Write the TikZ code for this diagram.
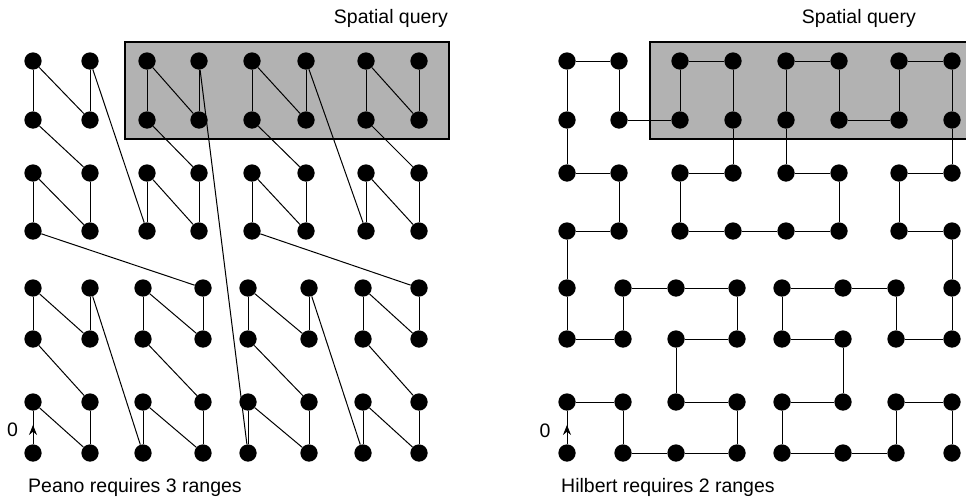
\documentclass[tikz,border=0pt]{standalone}
\usepackage{fontspec}
\setmainfont{Liberation Sans}
\usetikzlibrary{arrows.meta,calc}
\begin{document}
\begin{tikzpicture}[x=1pt,y=-1pt,
  dot/.style={circle,fill=black,inner sep=0pt,minimum size=17.3pt},
  conn/.style={line width=1pt,black},
  query/.style={fill=black!30,draw=black,line width=2.5pt},
  lbl/.style={inner sep=0pt,font=\fontsize{19.5}{22}\selectfont},
  uptip/.style={line width=1pt,-{Stealth[length=10pt,width=8pt]}}]
\useasboundingbox (0,0) rectangle (966,501);
\clip (0,0) rectangle (966,501);
% spatial query rectangles
\draw[query] (125,42) rectangle (449,139);
\draw[query] (650,42) rectangle (985,139);
% column positions
\def\lbot{33,90,143,203,248,309,363,419}
\def\ltop{33,90,147,199,252,306,366,419}
\def\rbot{567,623,676,737,782,843,896,952}
\def\rtop{567,619,680,733,786,839,899,952}
% dots
\foreach \y [count=\j from 0] in {453,402,339,288} {
  \foreach \x [count=\i from 0] in \lbot {\node[dot] (L-\i-\j) at (\x,\y) {};}
  \foreach \x [count=\i from 0] in \rbot {\node[dot] (R-\i-\j) at (\x,\y) {};}
}
\foreach \y [count=\j from 4] in {231,173,120,61} {
  \foreach \x [count=\i from 0] in \ltop {\node[dot] (L-\i-\j) at (\x,\y) {};}
  \foreach \x [count=\i from 0] in \rtop {\node[dot] (R-\i-\j) at (\x,\y) {};}
}
% Peano (Z-order) curve
\draw[conn] (L-0-0) -- (L-0-1);
\coordinate (LA) at ($(L-0-0)!0.55!(L-0-1)$);
\draw[uptip] (L-0-0) -- (LA);
\foreach \n in {1,...,62} {
  \pgfmathtruncatemacro\m{\n+1}
  \pgfmathtruncatemacro\ia{mod(floor(\n/2),2)+2*mod(floor(\n/8),2)+4*mod(floor(\n/32),2)}
  \pgfmathtruncatemacro\ja{mod(\n,2)+2*mod(floor(\n/4),2)+4*mod(floor(\n/16),2)}
  \pgfmathtruncatemacro\ib{mod(floor(\m/2),2)+2*mod(floor(\m/8),2)+4*mod(floor(\m/32),2)}
  \pgfmathtruncatemacro\jb{mod(\m,2)+2*mod(floor(\m/4),2)+4*mod(floor(\m/16),2)}
  \draw[conn] (L-\ia-\ja) -- (L-\ib-\jb);
}
% Hilbert curve
\draw[conn] (R-0-0) -- (R-0-1);
\coordinate (RA) at ($(R-0-0)!0.55!(R-0-1)$);
\draw[uptip] (R-0-0) -- (RA);
\foreach \p [remember=\p as \q (initially 0-1)] in {1-1,1-0,2-0,3-0,3-1,2-1,2-2,3-2,3-3,2-3,1-3,1-2,0-2,0-3,
  0-4,1-4,1-5,0-5,0-6,0-7,1-7,1-6,2-6,2-7,3-7,3-6,3-5,2-5,2-4,3-4,
  4-4,5-4,5-5,4-5,4-6,4-7,5-7,5-6,6-6,6-7,7-7,7-6,7-5,6-5,6-4,7-4,
  7-3,7-2,6-2,6-3,5-3,4-3,4-2,5-2,5-1,4-1,4-0,5-0,6-0,6-1,7-1,7-0} {
  \draw[conn] (R-\q) -- (R-\p);
}
% labels
\node[lbl,anchor=base east] (SQL) at (448,23) {Spatial query};
\node[lbl,anchor=base east] (SQR) at (916,23) {Spatial query};
\node[lbl,anchor=base west] (PT) at (28,492) {Peano requires 3 ranges};
\node[lbl,anchor=base west] (HT) at (561,492) {Hilbert requires 2 ranges};
\node[lbl] (ZL) at (12.5,429.5) {0};
\node[lbl] (ZR) at (545,431) {0};
\end{tikzpicture}
\end{document}
